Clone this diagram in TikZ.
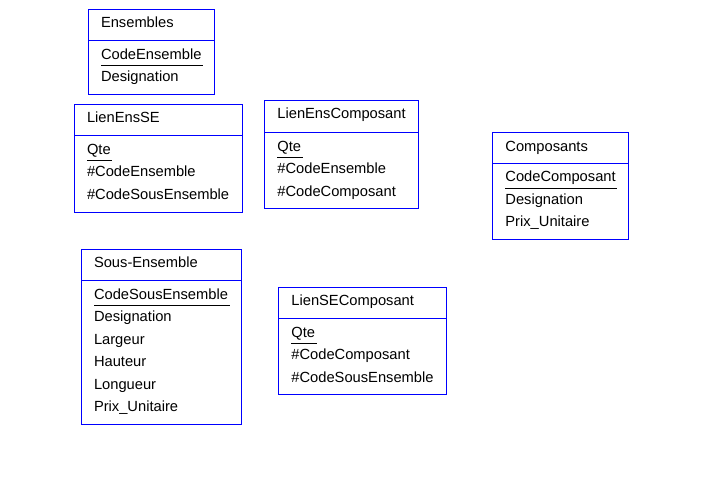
\documentclass[tikz,border=0pt]{standalone}
\usepackage{fontspec}
\setmainfont{Liberation Sans}
\usetikzlibrary{calc}
\tikzset{
  ent/.style={draw={rgb,255:red,0;green,0;blue,255}, line width=1pt, rectangle, inner sep=0pt, outer sep=0pt},
  entline/.style={draw={rgb,255:red,0;green,0;blue,255}, line width=1pt},
  txt/.style={anchor=base west, inner sep=0pt, outer sep=0pt, font=\fontsize{14.7pt}{17pt}\selectfont},
  uline/.style={draw=black, line width=1pt}
}
\newcommand\entbox[8]{%
  \node[ent, anchor=north west, minimum width={(#4-#2)*1pt}, minimum height={(#5-#3)*1pt}] (#1) at (#2,#3) {};
  \draw[entline] ($(#1.north west)+(0,#6)$) -- ($(#1.north east)+(0,#6)$);
  \node[txt] (#1-t) at ($(#1.north west)+(12.7,18.4)$) {#7};
  \foreach \a [count=\i] in {#8} {
    \node[txt] (#1-\i) at ($(#1.north west)+(12.7,{#6+18.9+22.5*(\i-1)})$) {\a};
  }
  \draw[uline] ($(#1-1.base west)+(0,6.2)$) -- ($(#1-1.base east)+(1.7,6.2)$);
}
\begin{document}
\begin{tikzpicture}[x=1pt,y=-1pt]
\useasboundingbox (0,0) rectangle (717,482);
\entbox{ens}{88.3}{9.3}{214}{94}{31}{Ensembles}{CodeEnsemble,Designation}
\entbox{lese}{74.3}{104.3}{242.3}{212}{31}{LienEnsSE}{Qte,\#CodeEnsemble,\#CodeSousEnsemble}
\entbox{lecomp}{264.7}{100.3}{418.3}{208.3}{32}{LienEnsComposant}{Qte,\#CodeEnsemble,\#CodeComposant}
\entbox{comp}{492.7}{132.7}{628}{239}{30.3}{Composants}{CodeComposant,Designation,Prix\_Unitaire}
\entbox{se}{81.3}{249.3}{241.3}{424}{31}{Sous-Ensemble}{CodeSousEnsemble,Designation,Largeur,Hauteur,Longueur,Prix\_Unitaire}
\entbox{lsec}{278.7}{287}{446.3}{394}{31.3}{LienSEComposant}{Qte,\#CodeComposant,\#CodeSousEnsemble}
\end{tikzpicture}
\end{document}
